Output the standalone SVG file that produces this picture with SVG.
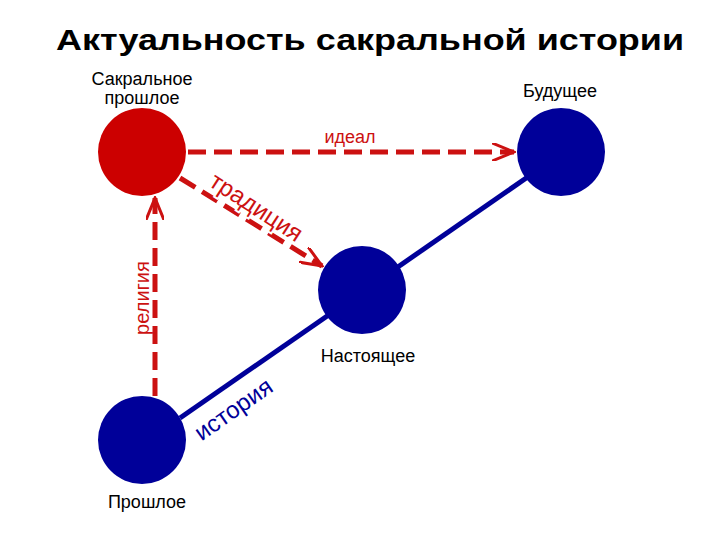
<svg xmlns="http://www.w3.org/2000/svg" width="720" height="540" viewBox="0 0 720 540">
<style>
text{font-family:"Liberation Sans",Arial,sans-serif;}
.lbl{font-size:18px;fill:#000;text-anchor:middle;}
.red{stroke:#cc1111;stroke-width:5;stroke-dasharray:18,8;fill:none;}
.blue{fill:#000099;}
</style>
<defs>
<marker id="ah2" markerWidth="24" markerHeight="18" refX="22" refY="9" orient="auto" markerUnits="userSpaceOnUse">
<path d="M0,0 L22,9 L0,18" fill="none" stroke="#cc1111" stroke-width="3"/>
</marker>
</defs>
<rect width="720" height="540" fill="#fff"/>
<text x="370" y="50" font-size="30" font-weight="bold" text-anchor="middle" textLength="628" lengthAdjust="spacingAndGlyphs">Актуальность сакральной истории</text>
<g id="connectors">
<line x1="180" y1="418" x2="532" y2="174" stroke="#000099" stroke-width="5"/>
<line class="red" x1="188" y1="152" x2="514" y2="152" marker-end="url(#ah2)"/>
<line class="red" x1="180" y1="178" x2="322" y2="266" marker-end="url(#ah2)"/>
<line class="red" x1="155" y1="396" x2="155" y2="198" marker-end="url(#ah2)"/>
</g>
<g id="n-sacred"><circle cx="142" cy="152" r="44" fill="#cc0000"/>
<text class="lbl" x="142" y="85">Сакральное</text><text class="lbl" x="142" y="104">прошлое</text></g>
<g id="n-future"><circle cx="561" cy="152" r="44" class="blue"/><text class="lbl" x="560" y="97">Будущее</text></g>
<g id="n-present"><circle cx="362" cy="290" r="44" class="blue"/><text class="lbl" x="368" y="362">Настоящее</text></g>
<g id="n-past"><circle cx="142" cy="440" r="44" class="blue"/><text class="lbl" x="147" y="508">Прошлое</text></g>
<text class="lbl" x="350" y="143" style="fill:#cc1111">идеал</text>
<text x="149" y="298" font-size="20" fill="#cc1111" text-anchor="middle" transform="rotate(-90 149 298)">религия</text>
<text x="252" y="214" font-size="24" fill="#cc1111" stroke="#fff" stroke-width="4" paint-order="stroke" text-anchor="middle" transform="rotate(33 252 214)">традиция</text>
<text x="238" y="416" font-size="24" fill="#000099" text-anchor="middle" transform="rotate(-35 238 416)">история</text>
</svg>
